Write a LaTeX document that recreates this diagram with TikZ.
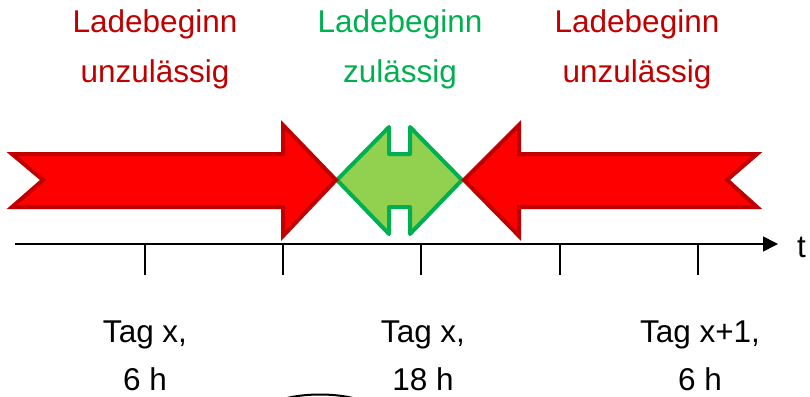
\documentclass[tikz,border=0pt]{standalone}
\usepackage{fontspec}
\setmainfont{Liberation Sans}
\usetikzlibrary{arrows.meta}
\definecolor{darkred}{HTML}{C00000}
\definecolor{okgreen}{HTML}{00B050}
\definecolor{lightgreen}{HTML}{92D050}
\tikzset{
  redarrow/.style={draw=darkred, fill=red, line width=4pt, line join=miter},
  greenarrow/.style={draw=okgreen, fill=lightgreen, line width=4pt, line join=round},
  lbl/.style={anchor=base, inner sep=0pt, font=\fontsize{31.5}{38}\selectfont},
  tick/.style={line width=1.2pt},
}
\begin{document}
\begin{tikzpicture}[x=1pt, y=-1pt]
\useasboundingbox (0,0) rectangle (810,396);
\clip (0,0) rectangle (810,396);

% permitted window: double-headed arrow
\draw[greenarrow] (337,180) -- (389,127) -- (389,154) -- (410,154) -- (410,127)
  -- (462,180) -- (410,234) -- (410,207) -- (389,207) -- (389,234) -- cycle;

% forbidden ranges: notched arrows pointing at the window
\draw[redarrow] (12,154) -- (283,154) -- (283,125) -- (336,180) -- (283,236)
  -- (283,207) -- (12,207) -- (43,180) -- cycle;
\draw[redarrow] (757,154) -- (519,154) -- (519,125) -- (464,180) -- (519,236)
  -- (519,207) -- (757,207) -- (727,180) -- cycle;

% time axis
\coordinate (a0) at (15,244);
\coordinate (a1) at (778,244);
\draw[line width=1.6pt, -{Triangle[length=15pt, width=15pt]}] (a0) -- (a1);
\node[lbl, anchor=base west] (t) at (797,257) {t};
\foreach \x/\n in {145/k1, 283/k2, 421/k3, 560/k4, 698/k5} {
  \coordinate (\n) at (\x,244);
  \draw[tick] (\n) -- ++(0,31);
}

% headings
\node[lbl, text=darkred] (h1a) at (155,33) {Ladebeginn};
\node[lbl, text=darkred] (h1b) at (155,82) {unzulässig};
\node[lbl, text=okgreen] (h2a) at (400,33) {Ladebeginn};
\node[lbl, text=okgreen] (h2b) at (400,82) {zulässig};
\node[lbl, text=darkred] (h3a) at (637,33) {Ladebeginn};
\node[lbl, text=darkred] (h3b) at (637,82) {unzulässig};

% time stamps
\node[lbl] (d1a) at (145,342) {Tag x,};
\node[lbl] (d1b) at (145,390) {6 h};
\node[lbl] (d2a) at (423,342) {Tag x,};
\node[lbl] (d2b) at (423,390) {18 h};
\node[lbl] (d3a) at (700,342) {Tag x+1,};
\node[lbl] (d3b) at (700,390) {6 h};

% edge of a shape below the frame
\draw[line width=2pt] (283,399) .. controls (305,393) and (335,393) .. (357,399);
\end{tikzpicture}
\end{document}
